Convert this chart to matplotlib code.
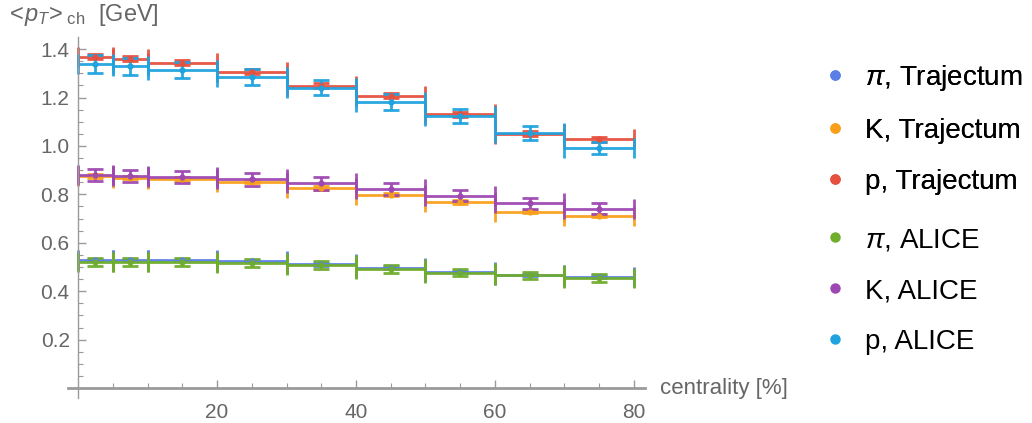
import matplotlib
matplotlib.use("Agg")
import matplotlib.pyplot as plt
from matplotlib.lines import Line2D
import numpy as np

# ---- data ----
centers = [2.5, 7.5, 15, 25, 35, 45, 55, 65, 75]
halfw = [2.5, 2.5, 5, 5, 5, 5, 5, 5, 5]

pi_traj = [0.530, 0.530, 0.529, 0.525, 0.511, 0.497, 0.480, 0.467, 0.460]
pi_traj_err = [0.005] * 9
K_traj = [0.876, 0.869, 0.863, 0.853, 0.826, 0.799, 0.768, 0.729, 0.712]
K_traj_err = [0.007] * 9
p_traj = [1.369, 1.360, 1.343, 1.306, 1.249, 1.208, 1.130, 1.050, 1.028]
p_traj_err = [0.010] * 9

pi_alice = [0.520, 0.520, 0.520, 0.517, 0.507, 0.493, 0.477, 0.465, 0.455]
pi_alice_err = [0.018, 0.018, 0.017, 0.017, 0.017, 0.017, 0.016, 0.016, 0.016]
K_alice = [0.880, 0.875, 0.872, 0.862, 0.845, 0.821, 0.795, 0.763, 0.741]
K_alice_err = [0.026, 0.026, 0.026, 0.026, 0.026, 0.025, 0.024, 0.023, 0.022]
p_alice = [1.338, 1.330, 1.313, 1.284, 1.241, 1.181, 1.122, 1.052, 0.991]
p_alice_err = [0.036, 0.035, 0.034, 0.033, 0.032, 0.032, 0.029, 0.029, 0.026]

labels = [r"$\pi$, Trajectum", "K, Trajectum", "p, Trajectum",
          r"$\pi$, ALICE", "K, ALICE", "p, ALICE"]
colors = ["#5A7FE6", "#F8A01C", "#E6503F", "#6FAD2C", "#9D48B2", "#1FA3DE"]
series = [(pi_traj, pi_traj_err), (K_traj, K_traj_err), (p_traj, p_traj_err),
          (pi_alice, pi_alice_err), (K_alice, K_alice_err), (p_alice, p_alice_err)]

xticks = [20, 40, 60, 80]
yticks = [0.2, 0.4, 0.6, 0.8, 1.0, 1.2, 1.4]

# ---- style ----
plt.rcParams["font.family"] = ["Liberation Sans", "DejaVu Sans"]
plt.rcParams["mathtext.fontset"] = "custom"
plt.rcParams["mathtext.rm"] = "Liberation Sans"
plt.rcParams["mathtext.it"] = "Liberation Sans:italic"
plt.rcParams["mathtext.bf"] = "Liberation Sans:bold"

gray = "#666666"
axcol = "#9a9a9a"

fig = plt.figure(figsize=(10.32, 4.23), dpi=100)
ax = fig.add_axes([0.0655, 0.0598, 0.5596, 0.8527])

for (vals, errs), c in zip(series, colors):
    ax.errorbar(centers, vals, xerr=halfw, fmt="none", ecolor=c, elinewidth=2.0,
                capsize=7.0, capthick=2.0, alpha=0.95)
    ax.errorbar(centers, vals, yerr=errs, fmt="o", color=c, ms=3.5, ecolor=c,
                elinewidth=2.0, capsize=5.5, capthick=2.0, alpha=0.95)

ax.set_xlim(-1.5, 81.6)
ax.set_ylim(-0.04, 1.45)

for s in ["top", "right"]:
    ax.spines[s].set_visible(False)
ax.spines["left"].set_position(("data", 0))
ax.spines["bottom"].set_position(("data", 0))
for s in ["left", "bottom"]:
    ax.spines[s].set_color(axcol)
    ax.spines[s].set_linewidth(1.0)
ax.spines["bottom"].set_linewidth(2.0)

ax.set_xticks(xticks)
ax.set_yticks(yticks)
ax.set_xticklabels([str(v) for v in xticks])
ax.set_yticklabels(["%.1f" % v for v in yticks])
ax.set_xticks(np.arange(5, 81, 5), minor=True)
ax.set_yticks(np.arange(0.05, 1.45, 0.05), minor=True)
ax.tick_params(which="major", direction="in", length=6, width=1.0, color=axcol,
               labelsize=15, labelcolor=gray)
ax.tick_params(which="minor", direction="in", length=3.5, width=0.8, color=axcol)
ax.tick_params(axis="x", pad=11)
ax.tick_params(axis="y", pad=6)

ax.annotate("centrality [%]", xy=(1.0, 0), xycoords=("axes fraction", "data"),
            xytext=(11, 0), textcoords="offset points", va="center", ha="left",
            fontsize=16, color=gray)
fig.text(6 / 1032, 1 - 15 / 423, r"$<\!p_T\!>_{\mathregular{ch}}$  [GeV]", fontsize=17,
         color=gray, ha="left", va="center")

handles = [Line2D([], [], ls="none", marker="o", ms=6.5, color=c) for c in colors]
kw = dict(loc="upper left", frameon=False, fontsize=20, handlelength=1.0,
          handletextpad=0.6, labelspacing=0.9, borderpad=0, borderaxespad=0)
leg1 = fig.legend(handles[:3], labels[:3],
                  bbox_to_anchor=(821 / 1032, 1 - 63 / 423), **kw)
fig.add_artist(leg1)
fig.legend(handles[3:], labels[3:],
           bbox_to_anchor=(821 / 1032, 1 - 227 / 423), **kw)

fig.savefig("out.png", dpi=100)
